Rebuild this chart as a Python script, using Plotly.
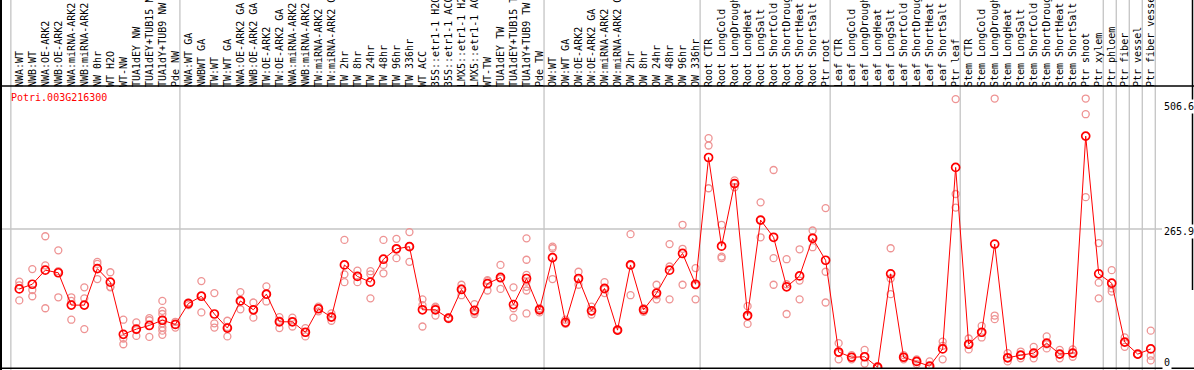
import plotly.graph_objects as go

gene = "Potri.003G216300"

labels = [
    "NWA:WT", "NWB:WT", "NWA:OE-ARK2", "NWB:OE-ARK2", "NWA:miRNA-ARK2", "NWB:miRNA-ARK2",
    "NW 0hr", "WT H2O", "WT-NW", "TUA1dEY NW", "TUA1dEY+TUB15 NW", "TUA1dY+TUB9 NW", "Pde NW",
    "NWA:WT GA", "NWBWT GA", "TW:WT", "TW:WT GA", "NWA:OE-ARK2 GA", "NWB:OE-ARK2 GA",
    "TW:OE-ARK2", "TW:OE-ARK2 GA", "NWA:miRNA-ARK2 GA", "NWB:miRNA-ARK2 GA", "TW:miRNA-ARK2",
    "TW:miRNA-ARK2 GA", "TW 2hr", "TW 8hr", "TW 24hr", "TW 48hr", "TW 96hr", "TW 336hr",
    "WT ACC", "35S::etr1-1 H2O", "35S::etr1-1 ACC", "LMX5::etr1-1 H2O", "LMX5::etr1-1 ACC",
    "WT-TW", "TUA1dEY TW", "TUA1dEY+TUB15 TW", "TUA1dY+TUB9 TW", "Pde TW",
    "OW:WT", "OW:WT GA", "OW:OE-ARK2", "OW:OE-ARK2 GA", "OW:miRNA-ARK2", "OW:miRNA-ARK2 GA",
    "OW 2hr", "OW 8hr", "OW 24hr", "OW 48hr", "OW 96hr", "OW 336hr",
    "Root CTR", "Root LongCold", "Root LongDrought", "Root LongHeat", "Root LongSalt",
    "Root ShortCold", "Root ShortDrought", "Root ShortHeat", "Root ShortSalt", "Ptr root",
    "Leaf CTR", "Leaf LongCold", "Leaf LongDrought", "Leaf LongHeat", "Leaf LongSalt",
    "Leaf ShortCold", "Leaf ShortDrought", "Leaf ShortHeat", "Leaf ShortSalt", "Ptr leaf",
    "Stem CTR", "Stem LongCold", "Stem LongDrought", "Stem LongHeat", "Stem LongSalt",
    "Stem ShortCold", "Stem ShortDrought", "Stem ShortHeat", "Stem ShortSalt", "Ptr shoot",
    "Ptr xylem", "Ptr phloem", "Ptr fiber", "Ptr vessel", "Ptr fiber vessel",
]

group_sizes = [13, 28, 12, 10, 10, 11, 1, 1, 1, 1]

means = [
    151, 160, 187, 182, 120, 120, 190, 164, 64, 74, 81, 91, 83,
    123, 137, 103, 76, 128, 111, 141, 88, 88, 68, 113, 97, 197, 175, 164, 208, 228, 232,
    111, 111, 95, 150, 110, 161, 173, 121, 171, 111,
    211, 87, 171, 109, 152, 72, 197, 111, 143, 187, 219, 160,
    403, 233, 353, 100, 283, 250, 155, 176, 248, 206,
    30, 20, 21, 1, 180, 20, 12, 3, 36, 384,
    45, 68, 237, 19, 24, 28, 47, 26, 28, 444, 180,
    162, 49, 26, 36,
]

replicates = [
    [165, 158, 129], [189, 149, 137], [252, 196, 114], [225, 135, 185], [135, 128, 92],
    [154, 133, 74], [203, 199, 170], [183, 154, 155], [92, 56, 45], [87, 61, 72],
    [95, 91, 59], [128, 109, 103, 92, 85, 77, 71, 63], [88, 83, 77],
    [125, 120, 124], [166, 106, 139], [143, 85, 77], [90, 60, 78], [145, 112, 127],
    [125, 96, 111], [156, 127, 141], [97, 76, 90], [96, 79, 88], [76, 60, 68],
    [117, 108, 113], [104, 90, 97], [245, 179, 164], [186, 164, 176], [185, 179, 133],
    [245, 197, 181], [247, 210, 228], [260, 203, 233], [131, 120, 79], [117, 100, 115],
    [96, 93, 95], [159, 139, 152], [122, 103, 106], [168, 148, 166], [197, 151, 171],
    [154, 114, 96], [248, 207, 178, 165, 155, 148, 104], [112, 106, 114],
    [232, 229, 170], [92, 85, 84], [184, 159, 170], [117, 102, 108], [164, 143, 150],
    [73, 71, 72], [256, 139, 196], [114, 107, 112], [159, 131, 139], [237, 194, 131],
    [274, 228, 159], [191, 131, 158],
    [440, 426, 344], [274, 213, 210], [359, 353, 346], [118, 84, 98], [317, 250, 283],
    [379, 210, 159], [208, 160, 103], [227, 167, 131], [263, 231, 250], [306, 184, 125],
    [47, 16, 28], [24, 16, 20], [34, 8, 21], [2, 0, 1], [229, 171, 141],
    [24, 16, 20], [16, 7, 12], [12, 0, 0], [50, 16, 42], [515, 333, 307],
    [56, 35, 44], [80, 58, 67], [516, 100, 93], [28, 12, 19], [31, 18, 24],
    [40, 18, 26], [60, 37, 45], [34, 18, 26], [35, 21, 28], [516, 486, 327],
    [239, 163, 133], [187, 152, 146], [58, 40, 49], [26, 25, 26], [71, 23, 14],
]

y_tick_values = [506.6, 265.9, 0]
y_tick_text = ["506.6", "265.9", "0"]

FONT = "DejaVu Sans Mono"
W, H = 1194, 370
T, B = 86, 2
PH = H - T - B

x_idx = list(range(len(labels)))
rep_x, rep_y = [], []
for i, reps in enumerate(replicates):
    for v in reps:
        rep_x.append(i)
        rep_y.append(v)

fig = go.Figure()
fig.add_trace(go.Scatter(
    x=rep_x, y=rep_y, mode="markers",
    marker=dict(symbol="circle-open", size=7, color="#ee9393", line=dict(width=1.3, color="#ee9393")),
    hoverinfo="skip", showlegend=False,
))
fig.add_trace(go.Scatter(
    x=x_idx, y=means, mode="lines+markers",
    line=dict(color="#ff0000", width=1),
    marker=dict(symbol="circle-open", size=8, color="#ff0000", line=dict(width=1.7, color="#ff0000")),
    showlegend=False,
))

def py(p):
    return (H - B - p) / PH

shapes = []
start = 0
bounds = [0]
for g in group_sizes:
    start += g
    bounds.append(start)
for b in bounds:
    shapes.append(dict(type="line", xref="x", yref="paper", x0=b - 0.65, x1=b - 0.65,
                       y0=py(H), y1=py(0), line=dict(color="#c4c4c4", width=1.3), layer="below"))
shapes.append(dict(type="line", xref="paper", yref="y", x0=0, x1=1162 / W, y0=265.9, y1=265.9,
                   line=dict(color="#c4c4c4", width=1.3), layer="below"))
shapes.append(dict(type="line", xref="paper", yref="paper", x0=1 / W, x1=1 / W, y0=py(H), y1=py(0),
                   line=dict(color="black", width=2)))
shapes.append(dict(type="line", xref="paper", yref="paper", x0=0, x1=1, y0=py(86), y1=py(86),
                   line=dict(color="black", width=1.5)))
shapes.append(dict(type="line", xref="paper", yref="paper", x0=0, x1=1, y0=py(368.3), y1=py(368.3),
                   line=dict(color="black", width=1.5)))
shapes.append(dict(type="line", xref="paper", yref="paper", x0=1192.5 / W, x1=1192.5 / W, y0=py(290), y1=py(0),
                   line=dict(color="black", width=1.5)))

annotations = [dict(text=gene, xref="paper", yref="paper", x=8.5 / W, y=py(97), xanchor="left",
                    yanchor="middle", showarrow=False, font=dict(family=FONT, size=10, color="#ff0000"))]
shifts = [-3.5, -2.7, 5.7]
for v, t, s in zip(y_tick_values, y_tick_text, shifts):
    annotations.append(dict(text=t, xref="paper", yref="y", x=1162 / W, y=v, yshift=s, xanchor="left",
                            yanchor="middle", showarrow=False, bgcolor="white",
                            font=dict(family=FONT, size=10, color="black")))

x0 = -19.3 / 13.005
fig.update_layout(
    width=W, height=H,
    margin=dict(l=0, r=0, t=T, b=B, pad=0),
    paper_bgcolor="white", plot_bgcolor="white",
    xaxis=dict(range=[x0, x0 + W / 13.005], side="top", tickmode="array", tickvals=x_idx,
               ticktext=labels, tickangle=-90, ticks="", showgrid=False, zeroline=False,
               showline=False, tickfont=dict(family=FONT, size=10, color="black"), automargin=False,
               ticklabelstandoff=-2),
    yaxis=dict(range=[(367.7 - 368) / 0.5216, (367.7 - 86) / 0.5216], showgrid=False, zeroline=False,
               showticklabels=False, showline=False, automargin=False),
    shapes=shapes, annotations=annotations,
    showlegend=False,
)
fig.write_html("out.html", config={"displayModeBar": False, "staticPlot": True},
               post_script="document.body.style.margin='0';document.body.style.overflow='hidden';")
